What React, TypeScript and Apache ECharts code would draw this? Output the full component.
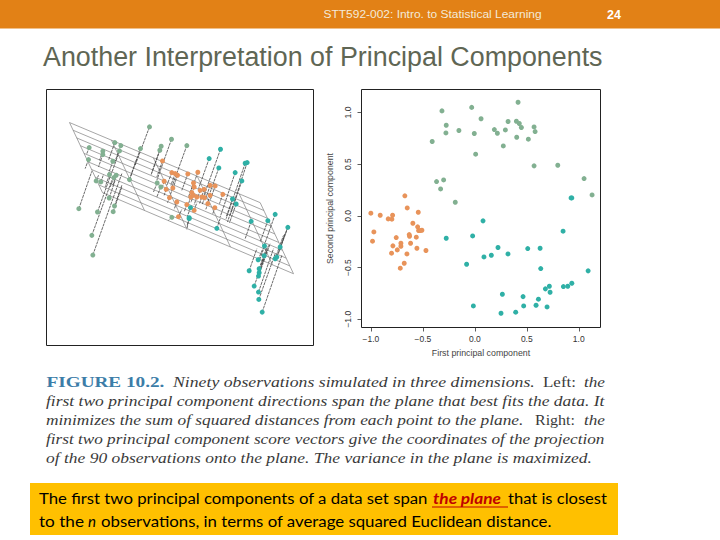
import React, { useEffect, useRef } from "react";
import * as echarts from "echarts";

// Right panel: principal component scores
const greenScores = [[-0.316,1.016],[-0.03,1.05],[0.416,1.10],[0.06,0.94],[-0.275,0.877],[-0.278,0.803],[-0.153,0.826],[-0.41,0.72],[-0.005,0.797],[0.008,0.597],[0.188,0.835],[0.217,0.80],[0.294,0.832],[0.32,0.913],[0.40,0.916],[0.428,0.894],[0.448,0.855],[0.403,0.761],[0.515,0.742],[0.57,0.861],[0.58,0.816],[0.274,0.677],[0.57,0.484],[0.798,0.49],[1.051,0.361],[1.128,0.203],[-0.368,0.332],[-0.30,0.348],[-0.329,0.261],[-0.188,0.132]];
const orangeScores = [[-0.673,0.194],[-0.65,0.077],[-1.0,0.026],[-0.91,0.006],[-0.544,0.035],[-0.791,0.006],[-0.833,-0.029],[-0.798,-0.032],[-0.596,-0.071],[-0.55,-0.106],[-0.541,-0.142],[-0.509,-0.139],[-0.525,-0.142],[-0.971,-0.155],[-0.984,-0.245],[-0.756,-0.21],[-0.631,-0.181],[-0.628,-0.197],[-0.563,-0.206],[-0.618,-0.265],[-0.711,-0.265],[-0.711,-0.294],[-0.788,-0.29],[-0.746,-0.329],[-0.557,-0.313],[-0.47,-0.335],[-0.801,-0.361],[-0.653,-0.368],[-0.679,-0.458],[-0.717,-0.506]];
const tealScores = [[0.933,0.174],[0.926,0.174],[0.079,-0.048],[0.849,-0.148],[-0.275,-0.216],[-0.021,-0.194],[0.223,-0.306],[0.509,-0.316],[0.628,-0.313],[0.319,-0.368],[0.159,-0.381],[0.088,-0.397],[-0.079,-0.468],[0.634,-0.51],[1.09,-0.532],[0.933,-0.652],[0.894,-0.681],[0.852,-0.684],[0.717,-0.681],[0.679,-0.706],[0.724,-0.739],[0.265,-0.758],[0.464,-0.781],[0.612,-0.806],[0.47,-0.871],[0.589,-0.865],[0.695,-0.881],[-0.014,-0.871],[0.252,-0.942],[0.393,-0.932]];
const scoreTicks = [-1, -0.5, 0, 0.5, 1];

// Left panel: projected 3D points, each [x, y, footX, footY] where the foot lies on the plane
const green3d = [[328,125,285,240],[394,162,350,285],[363,183,335,262],[359,195,333,268],[440,181,395,305],[301,190,268,283],[224,172,205,225],[242,181,222,235],[238,197,215,262],[147,187,140,205],[188,198,178,225],[188,208,175,245],[145,223,135,250],[218,228,205,265],[228,270,218,300],[221,277,210,305],[208,268,195,305],[168,287,175,270],[182,290,190,268],[268,283,290,220],[207,338,225,285],[223,362,245,300],[219,379,245,305],[172,380,215,260],[116,370,155,258],[155,450,215,285],[158,509,245,265],[351,293,340,320],[362,305,350,335],[395,396,385,405]];
const orange3d = [[367,227,350,275],[395,262,380,300],[405,265,392,300],[412,270,400,305],[443,266,425,315],[473,261,450,325],[372,288,365,310],[378,312,372,330],[398,308,388,335],[388,337,382,352],[410,350,402,372],[440,358,432,380],[460,293,445,335],[462,305,450,340],[455,322,448,345],[452,335,445,355],[470,335,462,358],[485,335,478,355],[492,312,482,342],[510,300,495,345],[525,302,510,345],[548,327,538,355],[503,355,497,372],[524,367,518,385],[415,394,425,372],[462,375,470,352],[480,315,472,340],[510,330,500,358],[460,330,452,352],[493,337,486,358]];
const teal3d = [[507,220,475,310],[541,192,490,335],[536,248,505,335],[585,262,540,395],[615,234,558,400],[621,232,562,410],[605,287,570,390],[577,341,558,395],[588,356,568,412],[451,367,442,392],[447,397,440,432],[447,400,441,420],[530,429,540,400],[633,408,615,460],[683,406,660,470],[705,387,672,480],[743,426,715,505],[673,482,660,520],[672,511,662,540],[705,520,730,450],[710,515,735,445],[720,485,745,420],[654,523,668,490],[627,556,650,490],[657,550,680,485],[657,562,685,480],[655,572,690,475],[642,602,680,495],[655,620,700,490],[656,642,705,505],[666,680,725,510]];
const planeCorners = { a: [88, 112], b: [660, 352], c: [760, 565], d: [187, 322] };
const planeAlong = [0, 0.22, 0.44, 0.67, 0.89, 1];
const planeAcross = [0, 0.11, 0.22, 0.33, 0.44, 0.56, 0.67, 0.78, 0.89, 1];

// Slide text
const headerText = "STT592-002: Intro. to Statistical Learning";
const pageNumber = "24";
const slideTitle = "Another Interpretation of Principal Components";
const figureLabel = "FIGURE 10.2.";
const captionFirst = ["Ninety observations simulated in three dimensions.", "Left:", "the"];
const captionLines = [
  "first two principal component directions span the plane that best fits the data. It",
  "minimizes the sum of squared distances from each point to the plane.",
  "first two principal component score vectors give the coordinates of the projection",
  "of the 90 observations onto the plane. The variance in the plane is maximized.",
];
const captionRight = ["Right:", "the"];
const calloutTop = ["The first two principal components of a data set span", "the plane", "that is closest"];
const calloutBottom = ["to the", "n", "observations, in terms of average squared Euclidean distance."];

const ctx = document.createElement("canvas").getContext("2d") as CanvasRenderingContext2D;
function fit(text: string, font: string, x: number, y: number, width: number, color: string) {
  ctx.font = font;
  const w = ctx.measureText(text).width;
  return {
    type: "text", x, y, scaleX: width / w, silent: true,
    style: { text, font, fill: color, textVerticalAlign: "middle", textAlign: "left" },
  };
}
const CAP_I = "italic 14px 'Liberation Serif'";
const CAP_R = "14px 'Liberation Serif'";
const CAP_C = "#3a3a3a";
const CALL = "15.5px Lato";

function planeLines() {
  const { a, b, c, d } = planeCorners;
  const mix = (p: number[], q: number[], t: number) => [p[0] + (q[0] - p[0]) * t, p[1] + (q[1] - p[1]) * t];
  const out: { coords: number[][] }[] = [];
  planeAlong.forEach((t) => out.push({ coords: [mix(a, b, t), mix(d, c, t)] }));
  planeAcross.forEach((t) => out.push({ coords: [mix(a, d, t), mix(b, c, t)] }));
  return out;
}
const footLines = (rows: number[][]) => rows.map((r) => ({ coords: [[r[0], r[1]], [r[2], r[3]]] }));
const heads = (rows: number[][]) => rows.map((r) => [r[0], r[1]]);
const GREEN = "#82b091", ORANGE = "#e8935a", TEAL = "#2fb0a6";

export default function App() {
  const ref = useRef<HTMLDivElement>(null);
  useEffect(() => {
    const chart = echarts.init(ref.current as HTMLDivElement, undefined, { renderer: "svg" });
    const tickLabel = { color: "#333", fontSize: 8.5, fontFamily: "Liberation Sans" };
    const scatter = (name: string, data: number[][], color: string, g: number) => ({
      name, type: "scatter", xAxisIndex: g, yAxisIndex: g, data, symbolSize: 5, z: 4,
      itemStyle: { color, opacity: 1 },
    });
    const segs = (data: any[], color: string, width: number, dash: any) => ({
      type: "lines", coordinateSystem: "cartesian2d", xAxisIndex: 0, yAxisIndex: 0, data, z: 3,
      lineStyle: { color, width, opacity: 1, curveness: 0, type: dash }, symbol: "none", silent: true,
    });
    chart.setOption({
      animation: false,
      backgroundColor: "#ffffff",
      grid: [
        { left: 46.5, top: 89.5, width: 267, height: 256, show: true, borderColor: "#222", borderWidth: 1, backgroundColor: "transparent" },
        { left: 361.5, top: 89.5, width: 239, height: 238, show: true, borderColor: "#222", borderWidth: 1, backgroundColor: "transparent" },
      ],
      xAxis: [
        { type: "value", gridIndex: 0, min: 19, max: 820, show: false },
        {
          type: "value", gridIndex: 1, min: -1.09, max: 1.209, splitLine: { show: false },
          axisLine: { show: false, onZero: false },
          axisTick: { show: true, length: 4, customValues: scoreTicks, lineStyle: { color: "#333", width: 0.8 } },
          axisLabel: { ...tickLabel, margin: 7, customValues: scoreTicks, formatter: (v: number) => v.toFixed(1).replace("-", "\u2212") },
          name: "First principal component", nameLocation: "middle", nameGap: 21,
          nameTextStyle: { color: "#444", fontSize: 8.8, fontFamily: "Liberation Sans" },
        },
      ],
      yAxis: [
        { type: "value", gridIndex: 0, min: 13, max: 780, inverse: true, show: false },
        {
          type: "value", gridIndex: 1, min: -1.08, max: 1.223, splitLine: { show: false },
          axisLine: { show: false, onZero: false },
          axisTick: { show: true, length: 4, customValues: scoreTicks, lineStyle: { color: "#333", width: 0.8 } },
          axisLabel: { ...tickLabel, margin: 9, rotate: 90, customValues: scoreTicks, formatter: (v: number) => v.toFixed(1).replace("-", "\u2212") },
          name: "Second principal component", nameLocation: "middle", nameGap: 27, nameRotate: 90,
          nameTextStyle: { color: "#444", fontSize: 8.8, fontFamily: "Liberation Sans" },
        },
      ],
      series: [
        segs(planeLines(), "#808080", 0.7, "solid"),
        segs([...footLines(green3d), ...footLines(orange3d), ...footLines(teal3d)], "#444444", 0.8, [3, 0.8]),
        scatter("green3d", heads(green3d), GREEN, 0),
        scatter("orange3d", heads(orange3d), ORANGE, 0),
        scatter("teal3d", heads(teal3d), TEAL, 0),
        scatter("green", greenScores, GREEN, 1),
        scatter("orange", orangeScores, ORANGE, 1),
        scatter("teal", tealScores, TEAL, 1),
      ],
      graphic: [
        { type: "rect", shape: { x: 0, y: 0, width: 720, height: 28.5 }, style: { fill: "#e28116" }, silent: true },
        fit(headerText, "11px 'Liberation Sans'", 323.5, 14.5, 218.5, "#f3ead9"),
        { type: "text", x: 607, y: 14.5, silent: true, style: { text: pageNumber, font: "bold 12.5px 'Liberation Sans'", fill: "#ffffff", textVerticalAlign: "middle" } },
        fit(slideTitle, "28px 'Liberation Sans'", 43, 56, 560, "#5f6654"),
        fit(figureLabel, "bold 14px 'Liberation Serif'", 46.5, 382, 118, "#3c7da8"),
        fit(captionFirst[0], CAP_I, 173, 382, 362, CAP_C),
        fit(captionFirst[1], CAP_R, 543, 382, 33, CAP_C),
        fit(captionFirst[2], CAP_I, 584, 382, 21, CAP_C),
        fit(captionLines[0], CAP_I, 46, 401, 559, CAP_C),
        fit(captionLines[1], CAP_I, 46, 420, 478, CAP_C),
        fit(captionRight[0], CAP_R, 535, 420, 40, CAP_C),
        fit(captionRight[1], CAP_I, 584, 420, 21, CAP_C),
        fit(captionLines[2], CAP_I, 46, 439, 559, CAP_C),
        fit(captionLines[3], CAP_I, 46, 458, 546, CAP_C),
        { type: "rect", shape: { x: 30, y: 483, width: 588, height: 52 }, style: { fill: "#ffc000" }, silent: true },
        fit(calloutTop[0], CALL, 39, 498, 389, "#000"),
        fit(calloutTop[1], "italic bold 15.5px Lato", 433, 498, 68, "#c00000"),
        { type: "rect", shape: { x: 432, y: 506.5, width: 76, height: 1 }, style: { fill: "#c00000" }, silent: true },
        fit(calloutTop[2], CALL, 508, 498, 99, "#000"),
        fit(calloutBottom[0], CALL, 39, 521, 45, "#000"),
        fit(calloutBottom[1], "italic 15.5px Lato", 88, 521, 8, "#000"),
        fit(calloutBottom[2], CALL, 101, 521, 451, "#000"),
      ],
    });
    return () => chart.dispose();
  }, []);
  return <div ref={ref} style={{ position: "absolute", left: 0, top: 0, width: 720, height: 540, background: "#fff" }} />;
}
